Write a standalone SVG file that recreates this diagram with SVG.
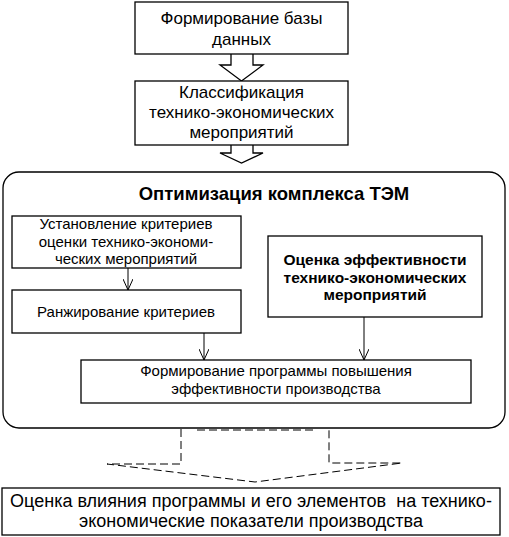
<svg xmlns="http://www.w3.org/2000/svg" width="509" height="537" viewBox="0 0 509 537">
<style>
.b{fill:#fff;stroke:#000;stroke-width:1.3}
.t{font-family:"Liberation Sans",Arial,sans-serif;font-size:17px;fill:#000;text-anchor:middle}
.s{font-size:15px}
.bd{font-weight:bold}
.c{fill:none;stroke:#000;stroke-width:1}
.d{fill:none;stroke:#000;stroke-width:1;stroke-dasharray:8,4}
</style>
<defs>
<marker id="ah" viewBox="0 0 12 10" refX="11" refY="5" markerWidth="12" markerHeight="10" markerUnits="userSpaceOnUse" orient="auto">
<path d="M0,0 L11,5 L0,10" fill="none" stroke="#000" stroke-width="1"/>
</marker>
</defs>
<rect width="509" height="537" fill="#fff"/>
<g id="container">
<rect class="b" x="3" y="172" width="502" height="256" rx="16"/>
<text class="t bd" x="274" y="200" style="font-size:18.5px">Оптимизация комплекса ТЭМ</text>
</g>
<g id="connectors">
<path class="b" d="M231,54 V65 H220 L241.5,81 L263,65 H253 V54"/>
<path class="b" d="M231,145 V153 H220 L241.5,163 L263,153 H253 V145"/>
<line class="c" x1="128" y1="268" x2="128" y2="290" marker-end="url(#ah)"/>
<line class="c" x1="204" y1="333" x2="204" y2="360" marker-end="url(#ah)"/>
<line class="c" x1="364" y1="317" x2="364" y2="360" marker-end="url(#ah)"/>
<path class="d" d="M181,429 V464 H107 L255,482 L402,463 H329 V429"/>
<line class="d" x1="197" y1="430" x2="315" y2="430" stroke-dasharray="4,2"/>
</g>
<g id="n1">
<rect class="b" x="135" y="2" width="213" height="52"/>
<text class="t" x="241.5" y="24">Формирование базы</text>
<text class="t" x="241.5" y="45">данных</text>
</g>
<g id="n2">
<rect class="b" x="135" y="81" width="213" height="64"/>
<text class="t" x="241.5" y="98">Классификация</text>
<text class="t" x="241.5" y="118">технико-экономических</text>
<text class="t" x="241.5" y="138">мероприятий</text>
</g>
<g id="n3">
<rect class="b" x="12" y="216" width="229" height="52"/>
<text class="t s" x="126" y="229">Установление критериев</text>
<text class="t s" x="126" y="247">оценки технико-экономи-</text>
<text class="t s" x="126" y="264">ческих мероприятий</text>
</g>
<g id="n4">
<rect class="b" x="12" y="290" width="229" height="43"/>
<text class="t s" x="126" y="317">Ранжирование критериев</text>
</g>
<g id="n5">
<rect class="b" x="268" y="236" width="214" height="81"/>
<text class="t bd" x="375" y="265" style="font-size:15.5px">Оценка эффективности</text>
<text class="t bd" x="375" y="283" style="font-size:15.5px">технико-экономических</text>
<text class="t bd" x="375" y="300" style="font-size:15.5px">мероприятий</text>
</g>
<g id="n6">
<rect class="b" x="81" y="360" width="390" height="43"/>
<text class="t s" x="276" y="376">Формирование программы повышения</text>
<text class="t s" x="276" y="394">эффективности производства</text>
</g>
<g id="n7">
<rect class="b" x="2" y="488" width="498" height="47"/>
<text class="t" x="251" y="507" style="font-size:18px;white-space:pre">Оценка влияния программы и его элементов  на технико-</text>
<text class="t" x="251" y="527" style="font-size:18px">экономические показатели производства</text>
</g>
</svg>
